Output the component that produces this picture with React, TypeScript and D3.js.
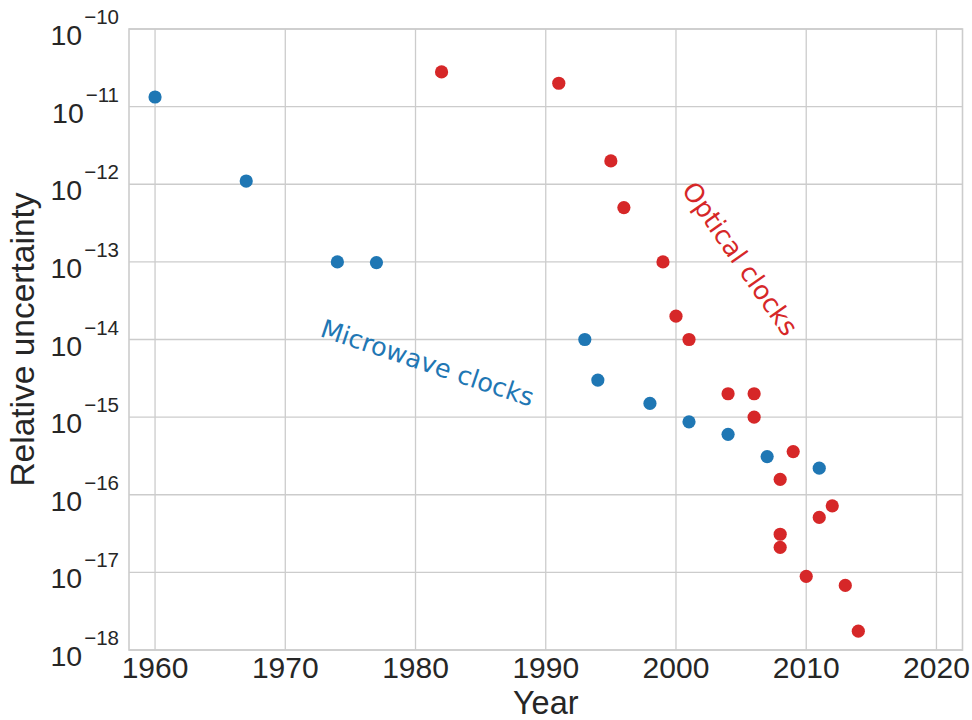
import React from "react";
import * as d3 from "d3";

const microwaveYears = [1960, 1967, 1974, 1977, 1993, 1994, 1998, 2001, 2004, 2007, 2011];
const microwaveValues = [1.33e-11, 1.1e-12, 1e-13, 9.8e-14, 1e-14, 3e-15, 1.5e-15, 8.7e-16, 6e-16, 3.1e-16, 2.2e-16];

const opticalYears = [1982, 1991, 1995, 1996, 1999, 2000, 2001, 2004, 2006, 2006, 2009, 2008, 2012, 2011, 2008, 2008, 2010, 2013, 2014];
const opticalValues = [2.8e-11, 2e-11, 2e-12, 5e-13, 1e-13, 2e-14, 1e-14, 2e-15, 2e-15, 1e-15, 3.6e-16, 1.58e-16, 7.2e-17, 5.1e-17, 3.1e-17, 2.1e-17, 8.9e-18, 6.8e-18, 1.75e-18];

const xTicks = [1960, 1970, 1980, 1990, 2000, 2010, 2020];
const yExponents = [-10, -11, -12, -13, -14, -15, -16, -17, -18];

const BLUE = "#1f77b4";
const RED = "#d62728";
const GRID = "#cccccc";
const TEXT = "#262626";
const SANS = "'Liberation Sans', Arial, sans-serif";
const DEJAVU = "'DejaVu Sans', sans-serif";

export default function App() {
  const W = 972, H = 720;
  const left = 129, right = 962.5, top = 29, bottom = 650;
  const x = d3.scaleLinear().domain([1958, 2022]).range([left, right]);
  const y = d3.scaleLog().domain([1e-18, 1e-10]).range([bottom, top]);

  return (
    <svg width={W} height={H} style={{ position: "absolute", left: 0, top: 0, background: "#fff" }}>
      <rect x={0} y={0} width={W} height={H} fill="#fff" />
      {xTicks.map((t) => (
        <line key={"gx" + t} x1={x(t)} x2={x(t)} y1={top} y2={bottom} stroke={GRID} strokeWidth={1.3} />
      ))}
      {yExponents.map((e) => (
        <line key={"gy" + e} x1={left} x2={right} y1={y(Math.pow(10, e))} y2={y(Math.pow(10, e))} stroke={GRID} strokeWidth={1.3} />
      ))}
      <rect x={left} y={top} width={right - left} height={bottom - top} fill="none" stroke={GRID} strokeWidth={1.6} />

      {xTicks.map((t) => (
        <text key={"tx" + t} x={x(t)} y={bottom + 28} textAnchor="middle" fontFamily={SANS} fontSize={30} fill={TEXT}>
          {t}
        </text>
      ))}
      {yExponents.map((e) => (
        <text key={"ty" + e} x={left - 10} y={y(Math.pow(10, e)) + 16} textAnchor="end" fontFamily={SANS} fontSize={28.5} fill={TEXT}>
          10
          <tspan dx={2} dy={-21} fontSize={20.5}>{"\u2212" + Math.abs(e)}</tspan>
        </text>
      ))}

      <text x={(left + right) / 2} y={714} textAnchor="middle" fontFamily={SANS} fontSize={32.5} fill={TEXT}>
        Year
      </text>
      <text transform={`translate(34,${(top + bottom) / 2}) rotate(-90)`} textAnchor="middle" fontFamily={SANS} fontSize={33.5} fill={TEXT}>
        Relative uncertainty
      </text>

      {microwaveYears.map((yr, i) => (
        <circle key={"m" + i} cx={x(yr)} cy={y(microwaveValues[i])} r={6.6} fill={BLUE} />
      ))}
      {opticalYears.map((yr, i) => (
        <circle key={"o" + i} cx={x(yr)} cy={y(opticalValues[i])} r={6.6} fill={RED} />
      ))}

      <text transform="translate(319,336) rotate(18.5)" fontFamily={DEJAVU} fontSize={25.5} fill={BLUE}>
        Microwave clocks
      </text>
      <text transform="translate(681,190) rotate(55)" fontFamily={DEJAVU} fontSize={26} fill={RED}>
        Optical clocks
      </text>
    </svg>
  );
}
